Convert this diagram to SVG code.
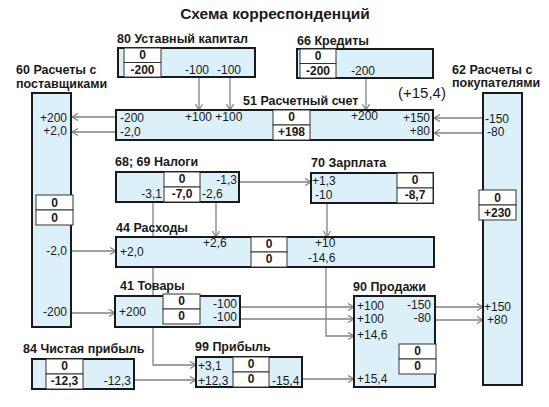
<svg xmlns="http://www.w3.org/2000/svg" width="549" height="407" viewBox="0 0 549 407">
<defs>
<marker id="arr" markerUnits="userSpaceOnUse" markerWidth="10" markerHeight="10" refX="7" refY="4" orient="auto">
<path d="M1,0.5 L7,4 L1,7.5" fill="none" stroke="#808080" stroke-width="1.2"/>
</marker>
</defs>
<style>
text{font-family:"Liberation Sans",Arial,sans-serif;fill:#1a1a1a}
.t{font-size:15.5px;font-weight:bold}
.lbl{font-size:12.5px;font-weight:bold}
.n{font-size:12px}
.c{font-size:12px;font-weight:bold;text-anchor:middle}
.e{text-anchor:end}
.box{fill:#dcf0fa;stroke:#1a1a1a;stroke-width:2}
.cell{fill:#ffffff;stroke:#333;stroke-width:1}
.con{fill:none;stroke:#808080;stroke-width:1.3;marker-end:url(#arr)}
</style>
<rect width="549" height="407" fill="#ffffff"/>
<text class="t" x="275" y="19" text-anchor="middle">Схема корреспонденций</text>

<g id="conn">
<path class="con" d="M199,77 V110"/>
<path class="con" d="M230,77 V110"/>
<path class="con" d="M366,78 V110"/>
<path class="con" d="M116,117 H72"/>
<path class="con" d="M116,132 H72"/>
<path class="con" d="M483,118 H434"/>
<path class="con" d="M483,133 H434"/>
<path class="con" d="M239,182 H311"/>
<path class="con" d="M216,202 V237"/>
<path class="con" d="M153,202 V365 H196"/>
<path class="con" d="M327,203 V237"/>
<path class="con" d="M326,267 V336 H354"/>
<path class="con" d="M71,251 H116"/>
<path class="con" d="M71,313 H115"/>
<path class="con" d="M240,307 H354"/>
<path class="con" d="M240,319 H354"/>
<path class="con" d="M435,307 H483"/>
<path class="con" d="M435,320 H483"/>
<path class="con" d="M134,380 H196"/>
<path class="con" d="M302,379 H354"/>
</g>

<g id="n60">
<text class="lbl" x="16" y="74">60 Расчеты с</text>
<text class="lbl" x="16" y="88">поставщиками</text>
<rect class="box" x="32" y="93" width="39" height="234"/>
<text class="n e" x="67" y="122">+200</text>
<text class="n e" x="67" y="135">+2,0</text>
<rect class="cell" x="36" y="195" width="37" height="15"/>
<rect class="cell" x="36" y="210" width="37" height="15"/>
<text class="c" x="54.5" y="207">0</text>
<text class="c" x="54.5" y="222">0</text>
<text class="n e" x="67" y="255">-2,0</text>
<text class="n e" x="67" y="316">-200</text>
</g>

<g id="n80">
<text class="lbl" x="117" y="43">80 Уставный капитал</text>
<rect class="box" x="118" y="48" width="137" height="29"/>
<rect class="cell" x="124" y="48" width="37" height="14.5"/>
<rect class="cell" x="124" y="62.5" width="37" height="14.5"/>
<text class="c" x="142.5" y="59">0</text>
<text class="c" x="142.5" y="74">-200</text>
<text class="n" x="185" y="74">-100</text>
<text class="n" x="217" y="74">-100</text>
</g>

<g id="n66">
<text class="lbl" x="297" y="45">66 Кредиты</text>
<rect class="box" x="297" y="49" width="136" height="29"/>
<rect class="cell" x="300" y="49" width="36" height="14.5"/>
<rect class="cell" x="300" y="63.5" width="36" height="14.5"/>
<text class="c" x="318" y="60">0</text>
<text class="c" x="318" y="75">-200</text>
<text class="n" x="351" y="75">-200</text>
</g>

<g id="n51">
<text class="lbl" x="243" y="105">51 Расчетный счет</text>
<text x="398" y="98" style="font-size:15px">(+15,4)</text>
<rect class="box" x="116" y="110" width="317" height="30"/>
<rect class="cell" x="273" y="110" width="37" height="15"/>
<rect class="cell" x="273" y="125" width="37" height="15"/>
<text class="c" x="291.5" y="121">0</text>
<text class="c" x="291.5" y="136">+198</text>
<text class="n" x="120" y="122">-200</text>
<text class="n" x="120" y="136">-2,0</text>
<text class="n" x="185" y="121">+100 +100</text>
<text class="n" x="351" y="120">+200</text>
<text class="n e" x="430" y="122">+150</text>
<text class="n e" x="430" y="135">+80</text>
</g>

<g id="n62">
<text class="lbl" x="452" y="74">62 Расчеты с</text>
<text class="lbl" x="452" y="87">покупателями</text>
<rect class="box" x="483" y="93" width="39" height="292"/>
<text class="n" x="485" y="123">-150</text>
<text class="n" x="487" y="136">-80</text>
<rect class="cell" x="479" y="190" width="37" height="15"/>
<rect class="cell" x="479" y="205" width="37" height="15"/>
<text class="c" x="497.5" y="202">0</text>
<text class="c" x="497.5" y="217">+230</text>
<text class="n" x="484" y="311">+150</text>
<text class="n" x="487" y="324">+80</text>
</g>

<g id="n68">
<text class="lbl" x="115" y="166">68; 69 Налоги</text>
<rect class="box" x="116" y="172" width="123" height="30"/>
<rect class="cell" x="164" y="172" width="36" height="15"/>
<rect class="cell" x="164" y="187" width="36" height="15"/>
<text class="c" x="182" y="183">0</text>
<text class="c" x="182" y="198">-7,0</text>
<text class="n e" x="162" y="198">-3,1</text>
<text class="n e" x="237" y="184">-1,3</text>
<text class="n" x="202" y="198">-2,6</text>
</g>

<g id="n70">
<text class="lbl" x="311" y="167">70 Зарплата</text>
<rect class="box" x="311" y="173" width="122" height="30"/>
<rect class="cell" x="397" y="173" width="36" height="15"/>
<rect class="cell" x="397" y="188" width="36" height="15"/>
<text class="c" x="415" y="184">0</text>
<text class="c" x="415" y="199">-8,7</text>
<text class="n" x="312" y="185">+1,3</text>
<text class="n" x="315" y="199">-10</text>
</g>

<g id="n44">
<text class="lbl" x="116" y="232">44 Расходы</text>
<rect class="box" x="116" y="237" width="318" height="30"/>
<rect class="cell" x="251" y="237" width="36" height="15"/>
<rect class="cell" x="251" y="252" width="36" height="15"/>
<text class="c" x="269" y="248">0</text>
<text class="c" x="269" y="263">0</text>
<text class="n" x="120" y="256">+2,0</text>
<text class="n" x="203" y="247">+2,6</text>
<text class="n" x="315" y="247">+10</text>
<text class="n" x="308" y="262">-14,6</text>
</g>

<g id="n41">
<text class="lbl" x="120" y="290">41 Товары</text>
<rect class="box" x="115" y="296" width="125" height="31"/>
<rect class="cell" x="163" y="294" width="37" height="15"/>
<rect class="cell" x="163" y="309" width="37" height="15"/>
<text class="c" x="181.5" y="305">0</text>
<text class="c" x="181.5" y="320">0</text>
<text class="n" x="119" y="316">+200</text>
<text class="n e" x="237" y="308">-100</text>
<text class="n e" x="237" y="321">-100</text>
</g>

<g id="n84">
<text class="lbl" x="23" y="353">84 Чистая прибыль</text>
<rect class="box" x="32" y="359" width="102" height="30"/>
<rect class="cell" x="46" y="359" width="37" height="15"/>
<rect class="cell" x="46" y="374" width="37" height="15"/>
<text class="c" x="64.5" y="370">0</text>
<text class="c" x="64.5" y="385">-12,3</text>
<text class="n e" x="131" y="385">-12,3</text>
</g>

<g id="n99">
<text class="lbl" x="195" y="351">99 Прибыль</text>
<rect class="box" x="196" y="357" width="106" height="30"/>
<rect class="cell" x="233" y="357" width="36" height="15"/>
<rect class="cell" x="233" y="372" width="36" height="15"/>
<text class="c" x="251" y="368">0</text>
<text class="c" x="251" y="383">0</text>
<text class="n" x="198" y="370">+3,1</text>
<text class="n" x="198" y="385">+12,3</text>
<text class="n" x="272" y="385">-15,4</text>
</g>

<g id="n90">
<text class="lbl" x="353" y="291">90 Продажи</text>
<rect class="box" x="354" y="296" width="81" height="91"/>
<rect class="cell" x="399" y="344" width="37" height="15"/>
<rect class="cell" x="399" y="359" width="37" height="15"/>
<text class="c" x="417.5" y="355">0</text>
<text class="c" x="417.5" y="370">0</text>
<text class="n" x="357" y="310">+100</text>
<text class="n" x="357" y="323">+100</text>
<text class="n" x="357" y="339">+14,6</text>
<text class="n" x="357" y="383">+15,4</text>
<text class="n e" x="431" y="309">-150</text>
<text class="n e" x="431" y="322">-80</text>
</g>
</svg>
